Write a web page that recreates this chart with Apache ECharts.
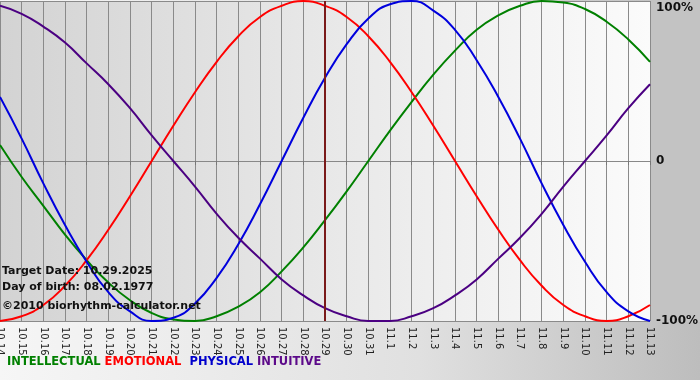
<!DOCTYPE html>
<html>
<head>
<meta charset="utf-8">
<script src="https://cdn.jsdelivr.net/npm/echarts@6/dist/echarts.min.js"></script>
<style>
html,body{margin:0;padding:0;}
#chart{width:700px;height:380px;}
</style>
</head>
<body>
<div id="chart"></div>
<script>
var dates = ['10.14','10.15','10.16','10.17','10.18','10.19','10.20','10.21','10.22','10.23','10.24','10.25','10.26','10.27','10.28','10.29','10.30','10.31','11.1','11.2','11.3','11.4','11.5','11.6','11.7','11.8','11.9','11.10','11.11','11.12','11.13'];
var intellectual = [0.10,-0.10,-0.28,-0.46,-0.62,-0.76,-0.87,-0.95,-0.99,-1.00,-0.97,-0.91,-0.82,-0.69,-0.54,-0.37,-0.19,0,0.19,0.37,0.54,0.69,0.82,0.91,0.97,1.00,0.99,0.95,0.87,0.76,0.62];
var emotional = [-1.00,-0.97,-0.90,-0.78,-0.62,-0.43,-0.22,0,0.22,0.43,0.62,0.78,0.90,0.97,1.00,0.97,0.90,0.78,0.62,0.43,0.22,0,-0.22,-0.43,-0.62,-0.78,-0.90,-0.97,-1.00,-0.97,-0.90];
var physical = [0.40,0.14,-0.14,-0.40,-0.63,-0.82,-0.94,-1.00,-0.98,-0.89,-0.73,-0.52,-0.27,0,0.27,0.52,0.73,0.89,0.98,1.00,0.94,0.82,0.63,0.40,0.14,-0.14,-0.40,-0.63,-0.82,-0.94,-1.00];
var intuitive = [0.97,0.92,0.84,0.74,0.61,0.48,0.33,0.16,0,-0.16,-0.33,-0.48,-0.61,-0.74,-0.84,-0.92,-0.97,-1.00,-1.00,-0.97,-0.92,-0.84,-0.74,-0.61,-0.48,-0.33,-0.16,0,0.16,0.33,0.48];
var targetDate = '10.29';
var yLabels = {'1':'100%','0':'0','-1':'-100%'};

var font = '"DejaVu Sans", Verdana, sans-serif';
var chart = echarts.init(document.getElementById('chart'), null, {renderer:'canvas'});
function line(name, data, color){
  return {name:name, type:'line', data:data, smooth:true, symbol:'none',
    lineStyle:{color:color, width:2}, itemStyle:{color:color}, z:3};
}
var option = {
  animation:false,
  backgroundColor:{type:'linear',x:0,y:0,x2:1,y2:0,colorStops:[{offset:0,color:'#f6f6f6'},{offset:0.6,color:'#e0e0e0'},{offset:1,color:'#bdbdbd'}]},
  graphic:[
    {type:'rect', left:651, top:0, shape:{width:49,height:322}, style:{fill:'#c3c3c3'}, z:-1},
    {type:'text', left:2, top:266, style:{text:'Target Date: 10.29.2025', font:'bold 11px '+font, fill:'#111'}, z:10},
    {type:'text', left:2, top:282, style:{text:'Day of birth: 08.02.1977', font:'bold 11px '+font, fill:'#111'}, z:10},
    {type:'text', left:2, top:301, style:{text:'\u00a92010 biorhythm-calculator.net', font:'bold 11px '+font, fill:'#111'}, z:10},
    {type:'text', left:7, top:356, style:{
      text:'{g|INTELLECTUAL} {r|EMOTIONAL}  {b|PHYSICAL} {p|INTUITIVE}',
      font:'bold 11.5px '+font,
      rich:{
        g:{fill:'#008000', font:'bold 11.5px '+font},
        r:{fill:'#ff0000', font:'bold 11.5px '+font},
        b:{fill:'#0000cc', font:'bold 11.5px '+font},
        p:{fill:'#5c0a8a', font:'bold 11.5px '+font}
      }}, z:10}
  ],
  grid:{left:0, right:50, top:1, bottom:59, show:true, borderWidth:0, containLabel:false, outerBoundsMode:'none',
    backgroundColor:{type:'linear',x:0,y:0,x2:1,y2:0,colorStops:[{offset:0,color:'#d3d3d3'},{offset:0.5,color:'#e8e8e8'},{offset:1,color:'#fbfbfb'}]}},
  xAxis:{type:'category', data:dates, boundaryGap:false,
    axisLine:{show:true, lineStyle:{color:'#888', width:1}},
    axisTick:{show:true, length:4, lineStyle:{color:'#777'}},
    axisLabel:{rotate:-90, margin:6, fontSize:10, fontFamily:font, color:'#222', interval:0},
    splitLine:{show:true, lineStyle:{color:'#8a8a8a', width:1}}},
  yAxis:{type:'value', position:'right', min:-1, max:1, interval:1,
    axisLine:{show:false}, axisTick:{show:false},
    axisLabel:{margin:6, fontSize:12, fontWeight:'bold', fontFamily:font, color:'#111',
      formatter:function(v){ return v === 1 ? '{t|' + yLabels['1'] + '}' : yLabels[String(v)]; },
      rich:{t:{fontSize:12, fontWeight:'bold', fontFamily:font, color:'#111', padding:[13,0,0,0]}}},
    splitLine:{show:true, lineStyle:{color:'#8a8a8a', width:1}}},
  series:[
    line('INTELLECTUAL', intellectual, '#008000'),
    line('EMOTIONAL', emotional, '#ff0000'),
    line('PHYSICAL', physical, '#0000dd'),
    Object.assign(line('INTUITIVE', intuitive, '#4b0082'), {
      markLine:{silent:true, symbol:'none', label:{show:false},
        lineStyle:{color:'#7a1a1a', width:2, type:'solid'},
        data:[{xAxis:targetDate}]}
    })
  ]
};
chart.setOption(option);
</script>
</body>
</html>
